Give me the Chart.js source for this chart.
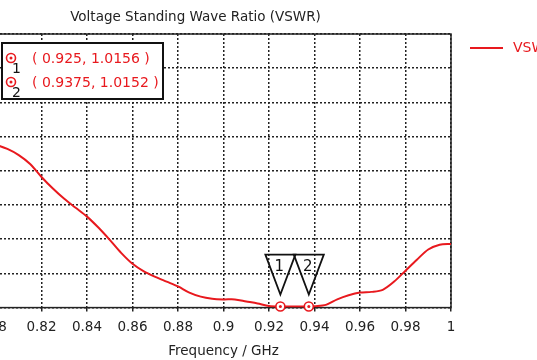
<!DOCTYPE html>
<html>
<head>
<meta charset="utf-8">
<script src="https://cdn.jsdelivr.net/npm/chart.js@4"></script>
<style>
html, body { margin: 0; padding: 0; background: #fff; overflow: hidden; }
#wrap { position: absolute; left: -60px; top: 0; width: 597px; height: 360px; }
</style>
</head>
<body>
<div id="wrap"><canvas id="chart"></canvas></div>
<script>
// data
const freqs = [0.800, 0.805, 0.810, 0.815, 0.820, 0.825, 0.830, 0.835, 0.840, 0.845,
               0.850, 0.855, 0.860, 0.865, 0.870, 0.875, 0.880, 0.885, 0.890, 0.895,
               0.900, 0.905, 0.910, 0.915, 0.920, 0.925, 0.930, 0.935, 0.9375, 0.940,
               0.945, 0.950, 0.955, 0.960, 0.965, 0.970, 0.975, 0.980, 0.985, 0.990,
               0.995, 1.000];
const vswr = [3.38, 3.32, 3.23, 3.10, 2.91, 2.74, 2.59, 2.46, 2.33, 2.17,
              1.99, 1.80, 1.64, 1.53, 1.45, 1.38, 1.31, 1.22, 1.16, 1.13,
              1.12, 1.12, 1.09, 1.06, 1.025, 1.0156, 1.015, 1.015, 1.0152, 1.02,
              1.04, 1.12, 1.18, 1.22, 1.23, 1.26, 1.38, 1.54, 1.70, 1.85,
              1.92, 1.93];
const markerFreqs = [0.925, 0.9375];
const markerVals = [1.0156, 1.0152];
const markerNames = ["1", "2"];
const xTicks = [0.8, 0.82, 0.84, 0.86, 0.88, 0.9, 0.92, 0.94, 0.96, 0.98, 1];
const yTicks = [1, 1.5, 2, 2.5, 3, 3.5, 4, 4.5, 5];

const RED = "#e8191e";
const FONT = "DejaVu Sans";

function drawMarker(ctx, px, py) {
    ctx.beginPath();
    ctx.arc(px, py, 4.5, 0, Math.PI * 2);
    ctx.fillStyle = "#fff";
    ctx.fill();
    ctx.lineWidth = 1.6;
    ctx.strokeStyle = RED;
    ctx.stroke();
    ctx.beginPath();
    ctx.arc(px, py, 1.5, 0, Math.PI * 2);
    ctx.fillStyle = RED;
    ctx.fill();
}

const overlay = {
    id: "overlay",
    beforeDatasetsDraw(chart) {
        const { ctx, chartArea: a } = chart;
        ctx.save();
        ctx.strokeStyle = "#222";
        ctx.lineWidth = 1.5;
        ctx.strokeRect(a.left, a.top, a.right - a.left, a.bottom - a.top);
        ctx.restore();
    },
    afterDatasetsDraw(chart) {
        const { ctx, chartArea: a, scales } = chart;
        ctx.save();
        ctx.font = "14px '" + FONT + "'";
        ctx.textBaseline = "middle";

        // markers + triangle flags on the curve
        markerFreqs.forEach((f, i) => {
            const px = scales.x.getPixelForValue(f);
            const py = scales.y.getPixelForValue(markerVals[i]);
            ctx.beginPath();
            ctx.moveTo(px - 15, py - 52);
            ctx.lineTo(px + 15, py - 52);
            ctx.lineTo(px, py - 12);
            ctx.closePath();
            ctx.strokeStyle = "#111";
            ctx.lineWidth = 1.8;
            ctx.stroke();
            ctx.fillStyle = "#111";
            ctx.textAlign = "center";
            ctx.font = "15px '" + FONT + "'";
            ctx.fillText(markerNames[i], px - 1, py - 39);
            drawMarker(ctx, px, py);
        });

        // marker readout box
        ctx.font = "14px '" + FONT + "'";
        const bx = a.left + 6, by = a.top + 9;
        ctx.fillStyle = "#fff";
        ctx.fillRect(bx, by, 161, 56);
        ctx.strokeStyle = "#111";
        ctx.lineWidth = 2;
        ctx.strokeRect(bx, by, 161, 56);
        markerFreqs.forEach((f, i) => {
            const cy = by + 15 + i * 24;
            drawMarker(ctx, bx + 9, cy);
            ctx.fillStyle = "#111";
            ctx.textAlign = "left";
            ctx.fillText(markerNames[i], bx + 10, cy + 11);
            ctx.fillStyle = RED;
            ctx.fillText("( " + f + ", " + markerVals[i] + " )", bx + 30, cy + 1);
        });

        // legend
        const ly = a.top + 14;
        ctx.beginPath();
        ctx.moveTo(a.right + 19, ly);
        ctx.lineTo(a.right + 52, ly);
        ctx.strokeStyle = RED;
        ctx.lineWidth = 2;
        ctx.stroke();
        ctx.fillStyle = RED;
        ctx.textAlign = "left";
        ctx.fillText("VSWR", a.right + 62, ly);
        ctx.restore();
    }
};

new Chart(document.getElementById("chart"), {
    type: "line",
    data: {
        datasets: [{
            label: "VSWR",
            data: freqs.map((f, i) => ({ x: f, y: vswr[i] })),
            borderColor: RED,
            borderWidth: 2,
            pointRadius: 0,
            tension: 0.3,
            fill: false
        }]
    },
    options: {
        responsive: true,
        maintainAspectRatio: false,
        animation: false,
        devicePixelRatio: 1,
        layout: { padding: { left: 0, right: 86, top: 0, bottom: 0 } },
        plugins: {
            legend: { display: false },
            tooltip: { enabled: false },
            title: {
                display: true,
                text: "Voltage Standing Wave Ratio (VSWR)",
                color: "#222",
                font: { family: FONT, size: 13.5, weight: "normal" },
                padding: { top: 9, bottom: 8.8 }
            }
        },
        scales: {
            x: {
                type: "linear",
                min: 0.8,
                max: 1,
                afterBuildTicks: s => { s.ticks = xTicks.map(v => ({ value: v })); },
                ticks: {
                    color: "#222",
                    font: { family: FONT, size: 13.5 },
                    padding: 8,
                    maxRotation: 0,
                    autoSkip: false,
                    callback: v => String(+v.toFixed(2))
                },
                grid: { color: "#222", lineWidth: 1.5, tickLength: 4 },
                border: { display: false, dash: [2, 2] },
                title: {
                    display: true,
                    text: "Frequency / GHz",
                    color: "#222",
                    font: { family: FONT, size: 13.5 },
                    padding: { top: 0, bottom: 0 }
                }
            },
            y: {
                type: "linear",
                min: 1,
                max: 5,
                afterBuildTicks: s => { s.ticks = yTicks.map(v => ({ value: v })); },
                afterFit: s => { s.width = 56; },
                ticks: { color: "#222", font: { family: FONT, size: 13 } },
                grid: { color: "#222", lineWidth: 1.5, tickLength: 4 },
                border: { display: false, dash: [2, 2] }
            }
        }
    },
    plugins: [overlay]
});
</script>
</body>
</html>
